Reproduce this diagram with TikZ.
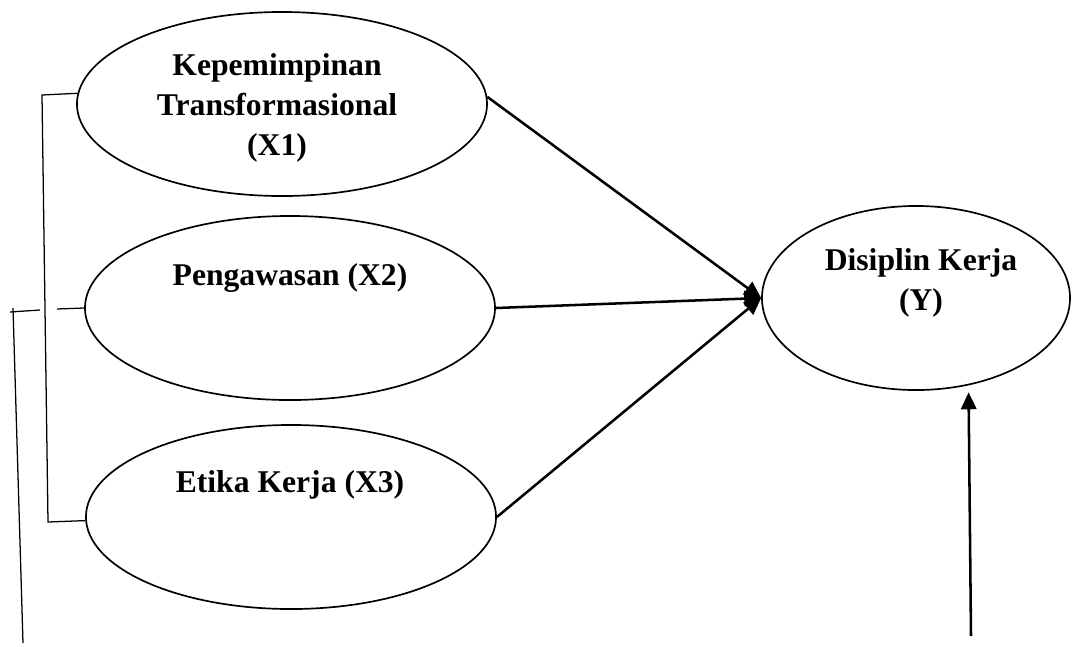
\documentclass[tikz,border=0pt]{standalone}
\usepackage{fontspec}
\setmainfont{Liberation Serif}
\usetikzlibrary{shapes.geometric, arrows.meta, positioning}

\tikzset{
  var/.style={draw, ellipse, line width=1.2pt, inner sep=0pt},
  teks/.style={font=\fontsize{22.5}{28.5}\selectfont\bfseries, align=center, inner sep=0pt},
  panah/.style={line width=1.8pt, -{Triangle[length=12pt, width=11pt]}},
  garis/.style={line width=0.9pt}
}

\begin{document}
\begin{tikzpicture}[x=0.025cm, y=-0.025cm]
  \newlength{\ellW}
  \newlength{\ellH}
  \setlength{\ellW}{10.25cm}
  \setlength{\ellH}{4.6cm}

  \useasboundingbox (0,0) rectangle (1073,646);

  % variabel bebas
  \node[var, minimum width=\ellW, minimum height=\ellH] (X1) at (282,104) {};
  \node[var, minimum width=\ellW, minimum height=\ellH] (X2) at (290,308) {};
  \node[var, minimum width=\ellW, minimum height=\ellH] (X3) at (291,517) {};
  % variabel terikat
  \node[var, minimum width=7.7cm, minimum height=4.6cm] (Y) at (916,298) {};

  \node[teks] (T1) at (277,108) {Kepemimpinan\\Transformasional\\(X1)};
  \node[teks, anchor=base] (T2) at (290,285) {Pengawasan (X2)};
  \node[teks, anchor=base] (T3) at (290,492) {Etika Kerja (X3)};
  \node[teks] (TY) at (921,283) {Disiplin Kerja\\(Y)};

  % panah ke Y
  \draw[panah] (X1.2) -- (Y.west);
  \draw[panah] (X2.east) -- (Y.west);
  \draw[panah] (X3.east) -- (Y.west);
  \coordinate (kaki) at (971,636);
  \draw[panah, shorten >=5pt] (kaki) -- (Y.301);

  % garis korelasi
  \coordinate (a1) at (42,95);
  \coordinate (a2) at (48,522);
  \draw[garis] (X1.177) -- (a1) -- (a2) -- (X3.181);
  \coordinate (b1) at (57,309);
  \coordinate (b2) at (40,310);
  \coordinate (b3) at (10,312);
  \coordinate (b4) at (13,308);
  \coordinate (b5) at (23,643);
  \draw[garis] (X2.west) -- (b1);
  \draw[garis] (b2) -- (b3);
  \draw[garis] (b4) -- (b5);
\end{tikzpicture}
\end{document}
